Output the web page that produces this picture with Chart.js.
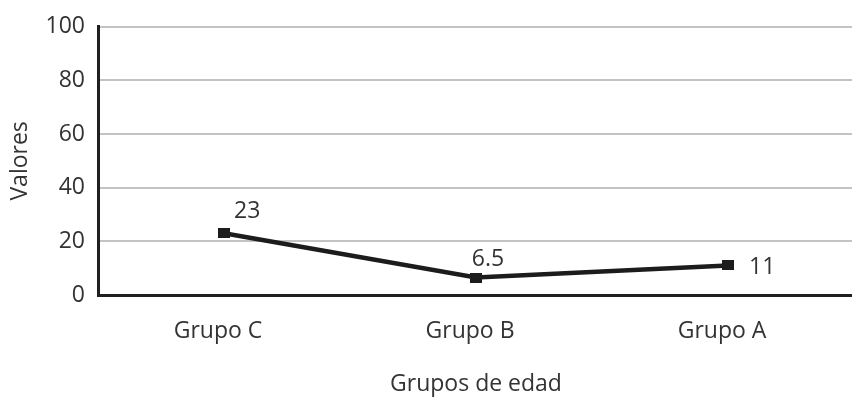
<!DOCTYPE html>
<html>
<head>
<meta charset="utf-8">
<script src="https://cdn.jsdelivr.net/npm/chart.js@4.4.1/dist/chart.umd.min.js"></script>
<style>
  html, body { margin: 0; padding: 0; background: #fff; overflow: hidden; }
  #wrap { width: 860px; height: 398px; position: relative; }
</style>
</head>
<body>
<div id="wrap"><canvas id="chart"></canvas></div>
<script>
// Age groups and their values
const categories = ['Grupo C', 'Grupo B', 'Grupo A'];
const values = [23, 6.5, 11];
const valueLabels = ['23', '6.5', '11'];
const yTicks = [0, 20, 40, 60, 80, 100];

const FONT = "'Open Sans', 'Noto Sans', sans-serif";
const TEXT = '#333333';
const LINE = '#1c1c1c';

// Slightly wide square marker
const marker = document.createElement('canvas');
marker.width = 12;
marker.height = 10;
(function () {
  const m = marker.getContext('2d');
  m.fillStyle = LINE;
  m.fillRect(0, 0, 12, 10);
})();

// Where each value label sits relative to its point
const labelOffsets = [
  { dx: 10, dy: -22, align: 'left' },
  { dx: 12, dy: -18, align: 'center' },
  { dx: 21, dy: 2, align: 'left' }
];

const valueLabelPlugin = {
  id: 'valueLabels',
  afterDatasetsDraw(chart) {
    const ctx = chart.ctx;
    const meta = chart.getDatasetMeta(0);
    ctx.save();
    ctx.font = '23px ' + FONT;
    ctx.fillStyle = TEXT;
    ctx.textBaseline = 'middle';
    meta.data.forEach((pt, i) => {
      const o = labelOffsets[i];
      ctx.textAlign = o.align;
      ctx.fillText(valueLabels[i], pt.x + o.dx, pt.y + o.dy);
    });
    ctx.restore();
  }
};

new Chart(document.getElementById('chart'), {
  type: 'line',
  data: {
    labels: categories,
    datasets: [{
      data: values,
      borderColor: LINE,
      backgroundColor: LINE,
      borderWidth: 4.5,
      pointStyle: marker,
      pointRadius: 6,
      pointBorderWidth: 0,
      tension: 0
    }]
  },
  options: {
    responsive: true,
    maintainAspectRatio: false,
    animation: false,
    layout: { padding: { top: 22, left: 0, right: 0, bottom: 0 } },
    plugins: {
      legend: { display: false },
      tooltip: { enabled: false }
    },
    scales: {
      x: {
        offset: true,
        grid: { display: false },
        border: { display: true, color: '#1f1f1f', width: 3 },
        ticks: { color: TEXT, font: { family: FONT, size: 23 }, padding: 15, labelOffset: -6 },
        title: {
          display: true,
          text: 'Grupos de edad',
          color: TEXT,
          font: { family: FONT, size: 23 },
          padding: { top: 0, bottom: 0 }
        },
        afterFit(scale) { scale.height = 103; }
      },
      y: {
        min: 0,
        max: 100,
        afterBuildTicks(scale) { scale.ticks = yTicks.map(v => ({ value: v })); },
        grid: { color: '#c3c3c3', lineWidth: 2, drawTicks: false },
        border: { display: true, color: '#1f1f1f', width: 3 },
        ticks: { color: TEXT, font: { family: FONT, size: 23 }, padding: 13 },
        title: {
          display: true,
          text: 'Valores',
          color: TEXT,
          font: { family: FONT, size: 23 },
          padding: { top: 7, bottom: 0 }
        },
        afterFit(scale) { scale.width = 98; }
      }
    }
  },
  plugins: [valueLabelPlugin]
});
</script>
</body>
</html>
